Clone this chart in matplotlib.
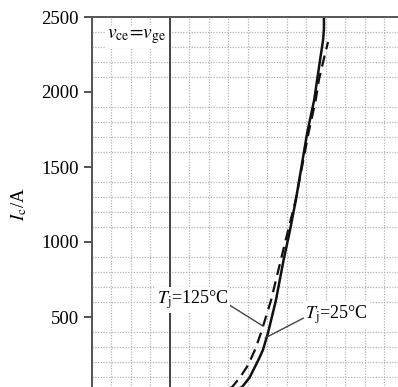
import matplotlib
matplotlib.use("Agg")
import matplotlib.pyplot as plt
from matplotlib.ticker import MultipleLocator

plt.rcParams['font.family'] = ['Liberation Serif', 'DejaVu Serif']
plt.rcParams['mathtext.fontset'] = 'stix'

# curves (x in grid units, y in A)
tj25_x = [7.0, 7.35, 7.72, 8.1, 8.38, 8.6, 8.79, 9.05, 9.46, 9.85, 10.15, 10.48, 11.06, 11.42, 11.72, 11.88, 11.92, 11.92]
tj25_y = [0, 12, 33, 95, 167, 225, 280, 393, 613, 880, 1060, 1280, 1727, 1947, 2213, 2350, 2420, 2500]
tj125_x = [6.5, 6.85, 7.21, 7.6, 7.97, 8.2, 8.38, 8.69, 9.21, 9.92, 10.47, 11.13, 11.50, 11.66, 11.90, 12.13]
tj125_y = [0, 12, 33, 95, 167, 228, 280, 393, 613, 993, 1280, 1727, 1947, 2080, 2213, 2333]

yticks = [500, 1000, 1500, 2000, 2500]

fig = plt.figure(figsize=(3.98, 3.87), dpi=100)
ax = fig.add_axes([91.5 / 398, -5 / 387, 19.5 * 16 / 398, 375 / 387])

ax.plot(tj25_x, tj25_y, color='#111111', lw=1.8, solid_capstyle='butt', solid_joinstyle='round')
ax.plot(tj125_x, tj125_y, color='#111111', lw=1.6, ls=(0, (5, 3)))

ax.set_xlim(0, 16)
ax.set_ylim(0, 2500)
ax.xaxis.set_minor_locator(MultipleLocator(1))
ax.yaxis.set_minor_locator(MultipleLocator(100))
ax.set_yticks(yticks)
ax.set_yticklabels([str(v) for v in yticks], fontsize=13.5)
ax.set_xticks([])
ax.grid(which='minor', color='#b4b4b4', ls=(0, (1, 1.2)), lw=0.9)
ax.axvline(4, color='#444444', lw=1.4)
ax.tick_params(axis='y', which='major', direction='out', length=6, width=1.3, color='#444444', pad=3)
ax.tick_params(axis='y', which='minor', length=0)
ax.tick_params(axis='x', which='both', length=0)

for side in ['top', 'left']:
    ax.spines[side].set_color('#555555')
    ax.spines[side].set_linewidth(1.4)
ax.spines['right'].set_visible(False)
ax.spines['bottom'].set_visible(False)

ax.set_ylabel(r'$I_{\rm c}$/A', fontsize=13.5, labelpad=9)

box = dict(facecolor='white', edgecolor='none', pad=1)
ax.text(0.8, 2367, r'$v_{\rm ce}\!=\!v_{\rm ge}$', fontsize=14, va='center', ha='left', bbox=box)
ax.annotate(r'$T_{\rm j}$=125°C', xy=(8.79, 440), xytext=(3.36, 613), fontsize=13,
            va='center', ha='left', bbox=box,
            arrowprops=dict(arrowstyle='-', color='#444444', lw=1, shrinkA=0, shrinkB=0,
                            relpos=(1.0, 0.3)))
ax.annotate(r'$T_{\rm j}$=25°C', xy=(8.9, 360), xytext=(10.95, 513), fontsize=13,
            va='center', ha='left', bbox=box,
            arrowprops=dict(arrowstyle='-', color='#444444', lw=1, shrinkA=0, shrinkB=0,
                            relpos=(0.0, 0.4)))

fig.savefig('out.png', dpi=100)
